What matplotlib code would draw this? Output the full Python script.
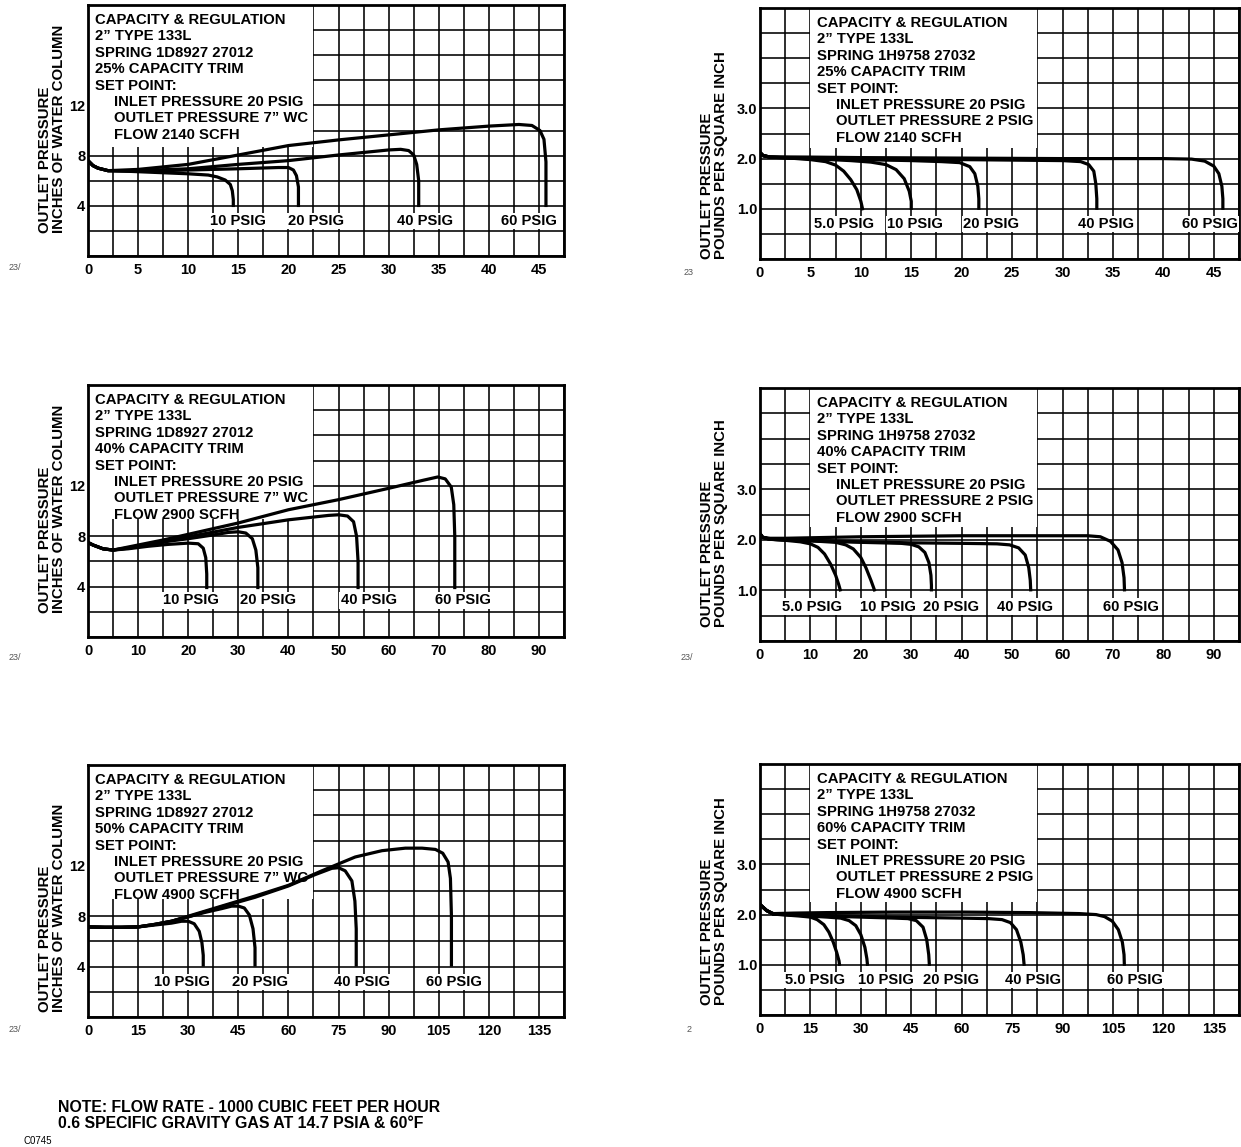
import numpy as np
import matplotlib
matplotlib.use("Agg")
import matplotlib.pyplot as plt
from matplotlib.patches import Rectangle
from matplotlib.transforms import offset_copy

plt.rcParams['font.family'] = ['Liberation Sans', 'DejaVu Sans']
plt.rcParams['font.weight'] = 'bold'

# ---- data (flow in 1000 SCFH, outlet pressure) ----
# top left: 25% trim, inches WC
tl_curves = {
    "10 PSIG": ([0, 0.5, 1, 2, 4, 7, 10, 12, 12.9, 13.7, 14.2, 14.4, 14.5, 14.5],
                [7.6, 7.2, 7.0, 6.8, 6.75, 6.65, 6.55, 6.45, 6.3, 6.05, 5.7, 5.2, 4.5, 3.9]),
    "20 PSIG": ([0, 0.5, 1, 2, 5, 10, 15, 19, 20, 20.5, 20.8, 21.0, 21.0],
                [7.6, 7.2, 7.0, 6.8, 6.75, 6.85, 6.95, 7.05, 7.05, 6.85, 6.4, 5.5, 3.9]),
    "40 PSIG": ([0, 0.5, 1, 2, 5, 10, 15, 20, 25, 30, 31.2, 32.0, 32.5, 32.8, 33.0, 33.0],
                [7.6, 7.2, 7.0, 6.8, 6.8, 6.95, 7.3, 7.6, 8.05, 8.45, 8.5, 8.4, 8.05, 7.3, 6.0, 3.9]),
    "60 PSIG": ([0, 0.5, 1, 2, 5, 10, 15, 20, 25, 30, 35, 40, 43, 44.3, 45.1, 45.5, 45.7, 45.7],
                [7.6, 7.2, 7.0, 6.8, 6.9, 7.3, 8.05, 8.8, 9.25, 9.65, 10.05, 10.35, 10.48, 10.4, 10.0, 9.3, 7.5, 3.9]),
}
# top right: 25% trim, psig
tr_curves = {
    "5.0 PSIG": ([0, 0.3, 1, 3, 5, 6.5, 7.5, 8.3, 9, 9.6, 10, 10.2],
                 [2.12, 2.06, 2.03, 2.01, 1.98, 1.94, 1.87, 1.75, 1.58, 1.38, 1.15, 0.97]),
    "10 PSIG": ([0, 0.3, 1, 3, 6, 9, 11, 12.5, 13.5, 14.3, 14.8, 15.0, 15.0],
                [2.12, 2.06, 2.03, 2.01, 1.99, 1.96, 1.93, 1.88, 1.78, 1.6, 1.35, 1.15, 0.98]),
    "20 PSIG": ([0, 0.3, 1, 5, 10, 15, 18, 19.8, 20.8, 21.3, 21.6, 21.7, 21.7],
                [2.12, 2.06, 2.03, 2.01, 1.98, 1.96, 1.94, 1.92, 1.84, 1.7, 1.45, 1.2, 0.98]),
    "40 PSIG": ([0, 0.3, 1, 5, 10, 20, 30, 31.8, 32.6, 33.1, 33.3, 33.4, 33.4],
                [2.12, 2.06, 2.03, 2.02, 2.0, 1.98, 1.96, 1.94, 1.88, 1.75, 1.5, 1.2, 0.98]),
    "60 PSIG": ([0, 0.3, 1, 5, 10, 20, 30, 40, 42.8, 44.1, 45.0, 45.5, 45.8, 45.9, 45.9],
                [2.12, 2.06, 2.03, 2.03, 2.02, 2.01, 2.0, 2.0, 1.99, 1.95, 1.85, 1.7, 1.45, 1.2, 0.98]),
}
# middle left: 40% trim, inches WC
ml_curves = {
    "10 PSIG": ([0, 1, 3, 5, 8, 12, 16, 20, 22, 23.0, 23.5, 23.7, 23.7],
                [7.5, 7.3, 7.0, 6.9, 7.0, 7.2, 7.35, 7.45, 7.4, 7.05, 6.3, 5.0, 3.8]),
    "20 PSIG": ([0, 1, 3, 5, 8, 12, 16, 20, 25, 28, 30, 31.5, 32.8, 33.5, 33.9, 33.9],
                [7.5, 7.3, 7.0, 6.9, 7.05, 7.3, 7.6, 7.8, 8.1, 8.3, 8.35, 8.25, 7.8, 6.9, 5.5, 3.8]),
    "40 PSIG": ([0, 1, 3, 5, 10, 15, 20, 30, 40, 48, 50, 51.8, 53.0, 53.6, 53.9, 53.9],
                [7.5, 7.3, 7.0, 6.9, 7.2, 7.55, 7.95, 8.7, 9.3, 9.65, 9.7, 9.6, 9.15, 8.0, 6.0, 3.8]),
    "60 PSIG": ([0, 1, 3, 5, 10, 15, 20, 30, 40, 50, 60, 67, 69.8, 71.3, 72.5, 73.0, 73.2, 73.2],
                [7.5, 7.3, 7.0, 6.9, 7.3, 7.7, 8.15, 9.05, 10.1, 10.9, 11.8, 12.45, 12.7, 12.55, 11.9, 10.5, 8.0, 3.8]),
}
# middle right: 40% trim, psig
mr_curves = {
    "5.0 PSIG": ([0, 0.5, 2, 5, 8, 10, 11.5, 12.8, 14, 15, 15.6, 16],
                 [2.12, 2.05, 2.01, 1.99, 1.96, 1.92, 1.85, 1.72, 1.52, 1.3, 1.12, 0.98]),
    "10 PSIG": ([0, 0.5, 2, 5, 10, 15, 17, 18.5, 20, 21, 22, 22.8],
                [2.12, 2.05, 2.01, 2.0, 1.98, 1.95, 1.9, 1.82, 1.65, 1.45, 1.2, 0.98]),
    "20 PSIG": ([0, 0.5, 2, 5, 10, 20, 28, 30, 31.5, 32.7, 33.5, 33.9, 34, 34],
                [2.12, 2.05, 2.01, 2.0, 1.98, 1.95, 1.93, 1.91, 1.86, 1.75, 1.55, 1.3, 1.1, 0.98]),
    "40 PSIG": ([0, 0.5, 2, 5, 10, 20, 30, 40, 47, 49.5, 51.3, 52.6, 53.3, 53.6, 53.7],
                [2.12, 2.05, 2.01, 2.0, 1.99, 1.96, 1.94, 1.93, 1.92, 1.9, 1.84, 1.7, 1.45, 1.2, 0.98]),
    "60 PSIG": ([0, 0.5, 2, 5, 10, 20, 30, 40, 50, 60, 65, 67.5, 69.5, 71, 71.8, 72.2, 72.3],
                [2.12, 2.05, 2.03, 2.03, 2.04, 2.06, 2.07, 2.08, 2.08, 2.08, 2.08, 2.06, 1.97, 1.8, 1.55, 1.25, 0.98]),
}
# bottom left: 50% trim, inches WC
bl_curves = {
    "10 PSIG": ([0, 5, 10, 15, 20, 25, 28, 30, 31.8, 33.3, 34.1, 34.5, 34.5],
                [7.15, 7.12, 7.12, 7.15, 7.3, 7.45, 7.6, 7.6, 7.4, 6.8, 5.9, 4.9, 4.0]),
    "20 PSIG": ([0, 5, 10, 15, 20, 25, 30, 35, 40, 43, 45, 46.8, 48.3, 49.4, 50, 50],
                [7.15, 7.12, 7.12, 7.15, 7.35, 7.6, 7.95, 8.3, 8.6, 8.8, 8.8, 8.65, 8.1, 7.0, 5.5, 4.0]),
    "40 PSIG": ([0, 5, 10, 15, 20, 25, 30, 40, 50, 60, 68, 73, 75, 77, 79.0, 79.9, 80.3, 80.3],
                [7.15, 7.12, 7.12, 7.15, 7.35, 7.6, 7.95, 8.75, 9.5, 10.4, 11.3, 11.8, 11.85, 11.6, 10.8, 9.2, 7.0, 4.0]),
    "60 PSIG": ([0, 5, 10, 15, 20, 25, 30, 40, 50, 60, 70, 80, 88, 95, 100, 104, 106.2, 107.8, 108.5, 108.8, 108.8],
                [7.15, 7.12, 7.12, 7.15, 7.35, 7.6, 8.0, 8.8, 9.6, 10.45, 11.6, 12.7, 13.2, 13.4, 13.4, 13.3, 13.0, 12.3, 11.0, 8.0, 4.0]),
}
# bottom right: 60% trim, psig
br_curves = {
    "5.0 PSIG": ([0, 2, 4, 8, 12, 15, 17, 19, 20.5, 21.8, 22.8, 23.5, 23.7],
                 [2.2, 2.08, 2.01, 1.99, 1.97, 1.95, 1.9, 1.8, 1.65, 1.45, 1.25, 1.08, 0.98]),
    "10 PSIG": ([0, 2, 4, 10, 15, 20, 24, 26.5, 28.5, 30, 31.2, 31.8, 32],
                [2.2, 2.08, 2.01, 1.99, 1.97, 1.95, 1.93, 1.88, 1.78, 1.6, 1.35, 1.12, 0.98]),
    "20 PSIG": ([0, 2, 4, 10, 20, 30, 40, 44, 46.5, 48.5, 49.6, 50.2, 50.4],
                [2.2, 2.08, 2.01, 2.0, 1.97, 1.95, 1.93, 1.92, 1.88, 1.75, 1.5, 1.2, 0.98]),
    "40 PSIG": ([0, 2, 4, 10, 20, 40, 60, 68, 72, 74.5, 76.3, 77.6, 78.3, 78.6],
                [2.2, 2.08, 2.01, 2.0, 1.98, 1.95, 1.93, 1.92, 1.9, 1.84, 1.7, 1.45, 1.2, 0.98]),
    "60 PSIG": ([0, 2, 4, 10, 20, 40, 60, 80, 95, 100, 102.5, 104.8, 106.6, 107.8, 108.3, 108.4],
                [2.2, 2.08, 2.02, 2.03, 2.04, 2.05, 2.05, 2.04, 2.02, 2.0, 1.96, 1.87, 1.7, 1.45, 1.2, 0.98]),
}

springs = ["SPRING 1D8927 27012", "SPRING 1H9758 27032"]
trims = ["25% CAPACITY TRIM", "25% CAPACITY TRIM", "40% CAPACITY TRIM",
         "40% CAPACITY TRIM", "50% CAPACITY TRIM", "60% CAPACITY TRIM"]
flows = ["FLOW 2140 SCFH", "FLOW 2140 SCFH", "FLOW 2900 SCFH",
         "FLOW 2900 SCFH", "FLOW 4900 SCFH", "FLOW 4900 SCFH"]
outlets = ["OUTLET PRESSURE 7\u201d WC", "OUTLET PRESSURE 2 PSIG"]
ylabels = ["OUTLET PRESSURE\nINCHES OF WATER COLUMN",
           "OUTLET PRESSURE\nPOUNDS PER SQUARE INCH"]

# ---- layout ----
W, H = 1241, 1147
fig = plt.figure(figsize=(W / 100, H / 100), dpi=100)


def px_rect(l, t, r, b):
    return [l / W, 1 - b / H, (r - l) / W, (b - t) / H]


panels = [
    dict(rect=(88, 5, 564, 256), curves=tl_curves, xmax=47.5, xstep=5, ymax=20, wc=True,
         box=(0, 22.5, 8.7), lab_y=2.8,
         lab_x={"10 PSIG": 15.0, "20 PSIG": 22.8, "40 PSIG": 33.6, "60 PSIG": 44.0},
         ylab_at=(52, 233), tag=("23/", 15, 268)),
    dict(rect=(760, 8, 1239, 259), curves=tr_curves, xmax=47.5, xstep=5, ymax=5, wc=False,
         box=(5, 27.5, 2.22), lab_y=0.7,
         lab_x={"5.0 PSIG": 8.3, "10 PSIG": 15.4, "20 PSIG": 22.9, "40 PSIG": 34.3, "60 PSIG": 44.6},
         ylab_at=(714, 259), tag=("23", 689, 273)),
    dict(rect=(88, 385, 564, 637), curves=ml_curves, xmax=95, xstep=10, ymax=20, wc=True,
         box=(0, 45, 9.4), lab_y=2.9,
         lab_x={"10 PSIG": 20.6, "20 PSIG": 36, "40 PSIG": 56, "60 PSIG": 74.8},
         ylab_at=(52, 613), tag=("23/", 15, 657)),
    dict(rect=(760, 388, 1239, 641), curves=mr_curves, xmax=95, xstep=10, ymax=5, wc=False,
         box=(10, 55, 2.25), lab_y=0.68,
         lab_x={"5.0 PSIG": 10.4, "10 PSIG": 25.3, "20 PSIG": 37.8, "40 PSIG": 52.6, "60 PSIG": 73.6},
         ylab_at=(714, 627), tag=("23/", 687, 657)),
    dict(rect=(88, 765, 564, 1017), curves=bl_curves, xmax=142.5, xstep=15, ymax=20, wc=True,
         box=(0, 67.5, 9.4), lab_y=2.8,
         lab_x={"10 PSIG": 28.1, "20 PSIG": 51.5, "40 PSIG": 82, "60 PSIG": 109.5},
         ylab_at=(52, 1012), tag=("23/", 15, 1030)),
    dict(rect=(760, 764, 1239, 1015), curves=br_curves, xmax=142.5, xstep=15, ymax=5, wc=False,
         box=(15, 82.5, 2.25), lab_y=0.7,
         lab_x={"5.0 PSIG": 16.4, "10 PSIG": 37.4, "20 PSIG": 56.9, "40 PSIG": 81.2, "60 PSIG": 111.5},
         ylab_at=(714, 1005), tag=("2", 689, 1030)),
]

for k, p in enumerate(panels):
    ax = fig.add_axes(px_rect(*p["rect"]))
    ax.set_xlim(0, p["xmax"])
    ax.set_ylim(0, p["ymax"])
    ax.set_xticks(np.arange(0, p["xmax"], p["xstep"]))
    ax.set_xticks(np.arange(0, p["xmax"] + 0.01, p["xstep"] / 2), minor=True)
    if p["wc"]:
        yt = [4, 8, 12]
        ax.set_yticks(yt)
        ax.set_yticklabels([str(v) for v in yt])
    else:
        yt = [1.0, 2.0, 3.0]
        ax.set_yticks(yt)
        ax.set_yticklabels(["%.1f" % v for v in yt])
    ax.set_yticks(np.arange(0, p["ymax"] + 1e-6, p["ymax"] / 10), minor=True)
    ax.set_axisbelow(True)
    ax.grid(which='both', color='black', lw=1.15)
    ax.tick_params(which='both', length=0, labelsize=10.5)
    ax.tick_params(axis='x', pad=5)
    ax.tick_params(axis='y', pad=2)
    for s in ax.spines.values():
        s.set_linewidth(2.0)

    x0, x1, y0 = p["box"]
    ax.add_patch(Rectangle((x0, y0), x1 - x0, p["ymax"] - y0, facecolor='white',
                           edgecolor='none', zorder=1))

    lines = ["CAPACITY & REGULATION", "2\u201d TYPE 133L", springs[k % 2], trims[k],
             "SET POINT:", "INLET PRESSURE 20 PSIG", outlets[k % 2], flows[k]]
    base = ax.get_xaxis_transform()
    for i, line in enumerate(lines):
        tr = offset_copy(base, fig=fig, x=7 + (19 if i >= 5 else 0),
                         y=-(15 + 16.4 * i), units='dots')
        ax.text(x0, 1, line, transform=tr, ha='left', va='center',
                fontsize=10.75, zorder=5)

    for name, (xs, ys) in p["curves"].items():
        ax.plot(xs, ys, color='black', lw=2.3, solid_joinstyle='round',
                solid_capstyle='butt', zorder=3)
        ax.text(p["lab_x"][name], p["lab_y"], name, ha='center', va='center',
                fontsize=10.6, zorder=4,
                bbox=dict(facecolor='white', edgecolor='none', pad=0.8))

    xc, yb = p["ylab_at"]
    fig.text(xc / W, 1 - yb / H, ylabels[k % 2], rotation=90, ha='center',
             va='bottom', multialignment='left', fontsize=10.8, linespacing=1.0)
    t, tx, ty = p["tag"]
    fig.text(tx / W, 1 - ty / H, t, fontsize=6.5, fontweight='normal',
             color='#555555', ha='center', va='center')

fig.text(58 / W, 1 - 1107 / H, "NOTE: FLOW RATE - 1000 CUBIC FEET PER HOUR",
         fontsize=11.4, ha='left', va='center')
fig.text(58 / W, 1 - 1123 / H, "0.6 SPECIFIC GRAVITY GAS AT 14.7 PSIA & 60\u00b0F",
         fontsize=11.4, ha='left', va='center')
fig.text(23 / W, 1 - 1141 / H, "C0745", fontsize=7, fontweight='normal',
         ha='left', va='center')

fig.savefig("out.png", dpi=100)
